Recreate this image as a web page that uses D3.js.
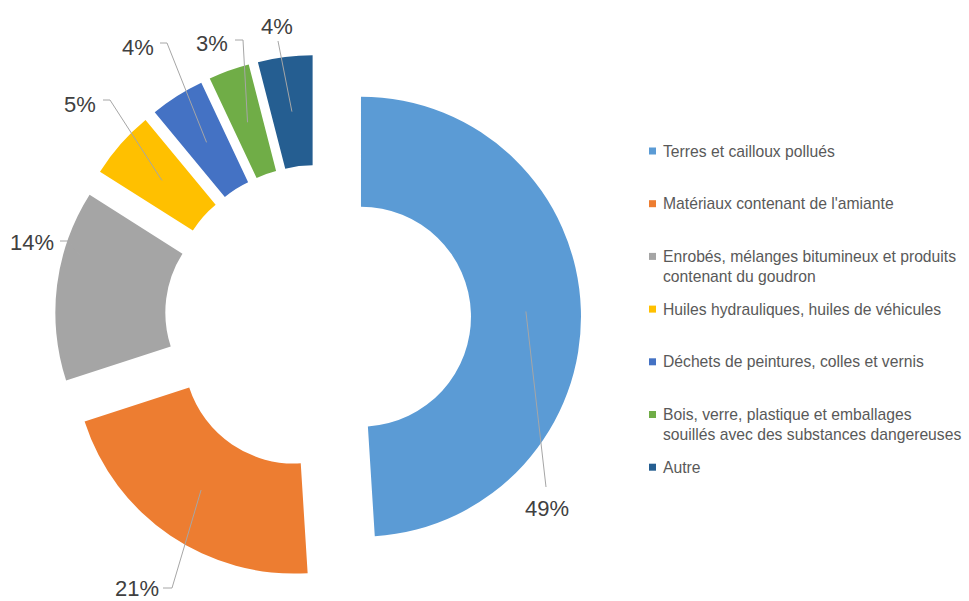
<!DOCTYPE html>
<html>
<head>
<meta charset="utf-8">
<script src="https://cdn.jsdelivr.net/npm/d3@7"></script>
<style>
  body { margin: 0; background: #fff; }
  text { font-family: "Liberation Sans", Arial, sans-serif; }
</style>
</head>
<body>
<div id="chart"></div>
<script>
// data
var categories = [
  "Terres et cailloux pollués",
  "Matériaux contenant de l'amiante",
  "Enrobés, mélanges bitumineux et produits contenant du goudron",
  "Huiles hydrauliques, huiles de véhicules",
  "Déchets de peintures, colles et vernis",
  "Bois, verre, plastique et emballages souillés avec des substances dangereuses",
  "Autre"
];
var values = [49, 21, 14, 5, 4, 3, 4];
var legendLines = [
  ["Terres et cailloux pollués"],
  ["Matériaux contenant de l'amiante"],
  ["Enrobés, mélanges bitumineux et produits", "contenant du goudron"],
  ["Huiles hydrauliques, huiles de véhicules"],
  ["Déchets de peintures, colles et vernis"],
  ["Bois, verre, plastique et emballages", "souillés avec des substances dangereuses"],
  ["Autre"]
];
var colors = ["#5B9BD5", "#ED7D31", "#A5A5A5", "#FFC000", "#4472C4", "#70AD47", "#255E91"];

var width = 969, height = 601;
var cx = 318, cy = 318,
    outerR = 220, innerR = 110,
    explode = 43;

// where excel put the data labels (best fit) and the leader line bends
var labelPos = [
  {x: 547, y: 508, pts: [[546, 487]]},
  {x: 137, y: 588, pts: [[172, 588], [163, 588]]},
  {x: 32, y: 242, pts: [[68, 241], [60, 241]]},
  {x: 80, y: 104, pts: [[110, 100], [103, 100]]},
  {x: 138, y: 47, pts: [[167, 43], [160, 43]]},
  {x: 212, y: 43, pts: [[243, 40], [235, 40]]},
  {x: 277, y: 26, pts: [[278, 41]]}
];

var svg = d3.select("#chart").append("svg")
  .attr("width", width)
  .attr("height", height);

var total = d3.sum(values);
var pie = d3.pie().sort(null).value(function(d) { return d; });
var arcs = pie(values);

var arc = d3.arc().innerRadius(innerR).outerRadius(outerR);
var midArc = d3.arc().innerRadius((innerR + outerR) / 2).outerRadius((innerR + outerR) / 2);

function offset(d) {
  var a = (d.startAngle + d.endAngle) / 2;
  return [cx + explode * Math.sin(a), cy - explode * Math.cos(a)];
}

var slices = svg.append("g").attr("class", "slices");
slices.selectAll("path")
  .data(arcs)
  .enter().append("path")
  .attr("transform", function(d) { var o = offset(d); return "translate(" + o[0] + "," + o[1] + ")"; })
  .attr("d", arc)
  .attr("fill", function(d, i) { return colors[i]; });

// leader lines
var line = d3.line();
svg.append("g").selectAll("path")
  .data(arcs)
  .enter().append("path")
  .attr("d", function(d, i) {
    var o = offset(d), c = midArc.centroid(d);
    var p = [[o[0] + c[0], o[1] + c[1]]].concat(labelPos[i].pts);
    return line(p);
  })
  .attr("fill", "none")
  .attr("stroke", "#A6A6A6")
  .attr("stroke-width", 1);

// data labels
svg.append("g").selectAll("text")
  .data(arcs)
  .enter().append("text")
  .attr("x", function(d, i) { return labelPos[i].x; })
  .attr("y", function(d, i) { return labelPos[i].y; })
  .attr("dy", "0.36em")
  .attr("text-anchor", "middle")
  .attr("font-size", 22)
  .attr("fill", "#404040")
  .text(function(d) { return Math.round(d.value / total * 100) + "%"; });

// legend
var legendX = 649, legendTop = 151, legendStep = 52.7, lineH = 19.5;
var legend = svg.append("g").attr("class", "legend");
var items = legend.selectAll("g")
  .data(categories)
  .enter().append("g")
  .attr("transform", function(d, i) { return "translate(" + legendX + "," + (legendTop + i * legendStep) + ")"; });

items.append("rect")
  .attr("x", 0).attr("y", -3.5)
  .attr("width", 7).attr("height", 7)
  .attr("fill", function(d, i) { return colors[i]; });

items.append("text")
  .attr("x", 14)
  .attr("font-size", 15.7)
  .attr("fill", "#595959")
  .each(function(d, i) {
    var t = d3.select(this);
    legendLines[i].forEach(function(l, j) {
      t.append("tspan").attr("x", 14).attr("y", j * lineH).attr("dy", "0.36em").text(l);
    });
  });
</script>
</body>
</html>
